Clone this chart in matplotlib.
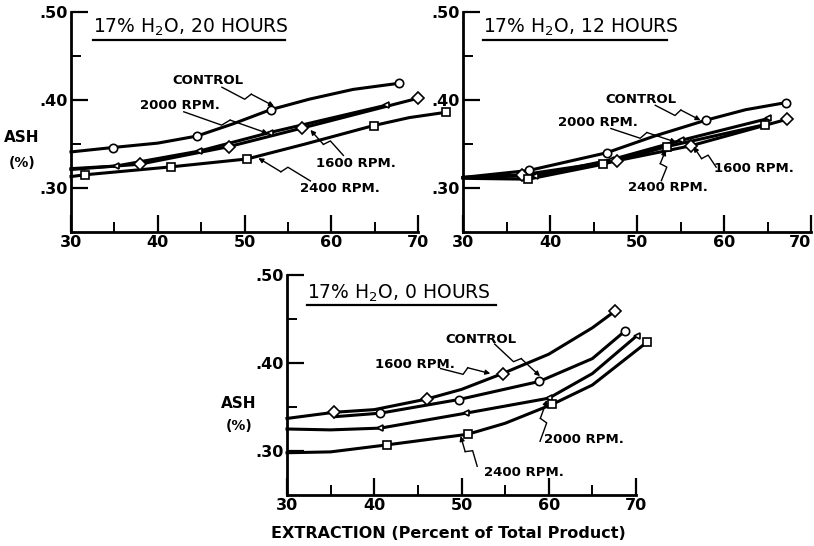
import numpy as np
import matplotlib.pyplot as plt

# values (ash % vs extraction %)

# --- 17% H2O, 20 hours ---
h20_ctrl_cx = [30, 34.8, 40, 44.5, 48.7, 53.0, 57.5, 62.5, 67.8]
h20_ctrl_cy = [0.341, 0.346, 0.351, 0.359, 0.373, 0.389, 0.401, 0.412, 0.419]
h20_ctrl_mx = [34.8, 44.5, 53.0, 67.8]
h20_ctrl_my = [0.346, 0.359, 0.389, 0.419]
h20_r2000_cx = [30, 35.2, 44.8, 52.9, 66.3]
h20_r2000_cy = [0.322, 0.325, 0.342, 0.363, 0.394]
h20_r1600_cx = [30, 37.9, 48.2, 56.6, 70.0]
h20_r1600_cy = [0.321, 0.327, 0.347, 0.368, 0.402]
h20_r2400_cx = [30, 31.6, 41.5, 50.3, 57, 64.9, 69, 73.2]
h20_r2400_cy = [0.313, 0.315, 0.324, 0.333, 0.350, 0.371, 0.380, 0.386]
h20_r2400_mx = [31.6, 41.5, 50.3, 64.9, 73.2]
h20_r2400_my = [0.315, 0.324, 0.333, 0.371, 0.386]

# --- 17% H2O, 12 hours ---
h12_ctrl_cx = [30, 37.6, 46.5, 52, 57.9, 62.5, 67.1]
h12_ctrl_cy = [0.312, 0.320, 0.340, 0.359, 0.377, 0.389, 0.397]
h12_ctrl_mx = [37.6, 46.5, 57.9, 67.1]
h12_ctrl_my = [0.320, 0.340, 0.377, 0.397]
h12_r2000_cx = [30, 38.3, 47.0, 55.0, 65.1]
h12_r2000_cy = [0.312, 0.314, 0.332, 0.354, 0.379]
h12_r1600_cx = [30, 36.8, 47.7, 56.2, 67.2]
h12_r1600_cy = [0.312, 0.315, 0.331, 0.348, 0.378]
h12_r2400_cx = [30, 37.5, 46.1, 53.4, 64.7]
h12_r2400_cy = [0.311, 0.310, 0.327, 0.347, 0.372]

# --- 17% H2O, 0 hours ---
h0_r1600_cx = [30, 35.4, 40, 46.0, 50, 54.7, 60, 65, 67.6]
h0_r1600_cy = [0.337, 0.344, 0.347, 0.359, 0.370, 0.388, 0.410, 0.440, 0.459]
h0_r1600_mx = [35.4, 46.0, 54.7, 67.6]
h0_r1600_my = [0.344, 0.359, 0.388, 0.459]
h0_ctrl_cx = [35.5, 40.7, 49.7, 58.9, 65, 68.7]
h0_ctrl_cy = [0.339, 0.343, 0.3585, 0.379, 0.405, 0.436]
h0_ctrl_mx = [40.7, 49.7, 58.9, 68.7]
h0_ctrl_my = [0.343, 0.3585, 0.379, 0.436]
h0_r2000_cx = [30, 35, 40.7, 50.5, 60.0, 65, 70.1]
h0_r2000_cy = [0.325, 0.324, 0.326, 0.343, 0.360, 0.388, 0.431]
h0_r2000_mx = [40.7, 50.5, 60.0, 70.1]
h0_r2000_my = [0.326, 0.343, 0.360, 0.431]
h0_r2400_cx = [30, 35, 41.5, 50.7, 55, 60.4, 65, 71.3]
h0_r2400_cy = [0.298, 0.299, 0.307, 0.319, 0.3315, 0.353, 0.375, 0.424]
h0_r2400_mx = [41.5, 50.7, 60.4, 71.3]
h0_r2400_my = [0.307, 0.319, 0.353, 0.424]

x_ticks = [30, 40, 50, 60, 70]
y_ticks = [0.30, 0.40, 0.50]
y_ticklabels = ['.30', '.40', '.50']

W, H = 814, 546
fig = plt.figure(figsize=(W / 100, H / 100), dpi=100)


def make_axes(left_px, bottom_px, w_px=348, h_px=220):
    ax = fig.add_axes([left_px / W, 1 - bottom_px / H, w_px / W, h_px / H])
    ax.set_xlim(30, 70)
    ax.set_ylim(0.25, 0.50)
    for s in ['top', 'right']:
        ax.spines[s].set_visible(False)
    for s in ['left', 'bottom']:
        ax.spines[s].set_linewidth(2)
    ax.set_xticks(x_ticks)
    ax.set_xticks([35, 45, 55, 65], minor=True)
    ax.set_yticks(y_ticks)
    ax.set_yticklabels(y_ticklabels)
    ax.set_yticks([0.35, 0.45], minor=True)
    ax.tick_params(which='major', direction='in', length=12, width=1.6,
                   labelsize=11.5, pad=2)
    ax.tick_params(which='minor', direction='in', length=7.5, width=1.4)
    for lab in ax.get_xticklabels() + ax.get_yticklabels():
        lab.set_fontweight('bold')
    ax.patch.set_alpha(0)
    return ax


def title(ax, txt, x0, x1, yt, yl):
    ax.text(x0, yt, txt, transform=ax.transAxes, fontsize=13.5, ha='left',
            va='baseline')
    ax.plot([x0, x1], [yl, yl], transform=ax.transAxes, color='k', lw=1.6,
            clip_on=False)


def curve(ax, cx, cy, mx, my, marker, ms):
    ax.plot(cx, cy, color='k', lw=2.2, clip_on=False, zorder=2)
    ax.plot(mx, my, ls='none', marker=marker, ms=ms, mfc='white', mec='k',
            mew=1.2, clip_on=False, zorder=3)


def callout(ax, txt, tx, ty, p0, p1, h=3.5):
    # label + lightning style leader ending in an arrow head
    ax.text(tx, ty, txt, fontsize=9.5, fontweight='bold', ha='center',
            va='center')
    tr = ax.transData
    a = tr.transform(p0)
    b = tr.transform(p1)
    d = b - a
    n = np.array([-d[1], d[0]]) / np.hypot(*d)
    pts = np.array([a, a + 0.46 * d - n * h, a + 0.54 * d + n * h])
    pts = tr.inverted().transform(pts)
    ax.plot(pts[:, 0], pts[:, 1], color='k', lw=1, clip_on=False)
    ax.annotate('', xy=p1, xytext=pts[-1],
                arrowprops=dict(arrowstyle='-|>', lw=1, color='k',
                                mutation_scale=7, shrinkA=0, shrinkB=0))


# top left panel
ax1 = make_axes(71, 232, 347)
curve(ax1, h20_ctrl_cx, h20_ctrl_cy, h20_ctrl_mx, h20_ctrl_my, 'o', 6)
curve(ax1, h20_r2000_cx, h20_r2000_cy, h20_r2000_cx[1:], h20_r2000_cy[1:], '<', 4.5)
curve(ax1, h20_r1600_cx, h20_r1600_cy, h20_r1600_cx[1:], h20_r1600_cy[1:], 'D', 6.5)
curve(ax1, h20_r2400_cx, h20_r2400_cy, h20_r2400_mx, h20_r2400_my, 's', 6)
title(ax1, '17% H$_2$O, 20 HOURS', 0.063, 0.617, 0.905, 0.873)
callout(ax1, 'CONTROL', 45.8, 0.422, (47.4, 0.4145), (53.4, 0.393))
callout(ax1, '2000 RPM.', 42.6, 0.394, (43.0, 0.3866), (52.7, 0.362))
callout(ax1, '1600 RPM.', 62.8, 0.3275, (61.4, 0.337), (57.6, 0.366))
callout(ax1, '2400 RPM.', 61.0, 0.299, (57.6, 0.308), (51.6, 0.334))

# top right panel
ax2 = make_axes(463, 232, 348)
curve(ax2, h12_ctrl_cx, h12_ctrl_cy, h12_ctrl_mx, h12_ctrl_my, 'o', 6)
curve(ax2, h12_r2000_cx, h12_r2000_cy, h12_r2000_cx[1:], h12_r2000_cy[1:], '<', 4.5)
curve(ax2, h12_r1600_cx, h12_r1600_cy, h12_r1600_cx[1:], h12_r1600_cy[1:], 'D', 6.5)
curve(ax2, h12_r2400_cx, h12_r2400_cy, h12_r2400_cx[1:], h12_r2400_cy[1:], 's', 6)
title(ax2, '17% H$_2$O, 12 HOURS', 0.057, 0.586, 0.905, 0.873)
callout(ax2, 'CONTROL', 50.4, 0.4008, (52.1, 0.394), (57.3, 0.377))
callout(ax2, '2000 RPM.', 45.5, 0.375, (47.0, 0.3676), (54.5, 0.352))
callout(ax2, '1600 RPM.', 63.4, 0.3218, (59.1, 0.3237), (56.5, 0.347))
callout(ax2, '2400 RPM.', 53.6, 0.3008, (52.8, 0.3084), (53.3, 0.343))
# last tick label sits at the page edge, pull it inside
ax2.get_xticklabels()[-1].set_horizontalalignment('right')

# bottom panel
ax3 = make_axes(287, 495, 349)
curve(ax3, h0_r1600_cx, h0_r1600_cy, h0_r1600_mx, h0_r1600_my, 'D', 6.5)
curve(ax3, h0_ctrl_cx, h0_ctrl_cy, h0_ctrl_mx, h0_ctrl_my, 'o', 6)
curve(ax3, h0_r2000_cx, h0_r2000_cy, h0_r2000_mx, h0_r2000_my, '<', 4.5)
curve(ax3, h0_r2400_cx, h0_r2400_cy, h0_r2400_mx, h0_r2400_my, 's', 6)
title(ax3, '17% H$_2$O, 0 HOURS', 0.057, 0.60, 0.89, 0.864)
callout(ax3, 'CONTROL', 52.2, 0.427, (53.8, 0.4215), (59.0, 0.385))
callout(ax3, '1600 RPM.', 44.7, 0.398, (47.6, 0.3937), (53.3, 0.388))
callout(ax3, '2000 RPM.', 64.0, 0.313, (59.0, 0.311), (59.8, 0.358))
callout(ax3, '2400 RPM.', 57.2, 0.276, (51.8, 0.2826), (49.9, 0.317))
ax3.set_xlabel('EXTRACTION (Percent of Total Product)', fontsize=11.5,
               fontweight='bold')
ax3.xaxis.set_label_coords(0.461, -0.14)

# y axis titles
for (x, y) in [(22, 138), (239, 403)]:
    fig.text(x / W, 1 - y / H, 'ASH', fontsize=11, fontweight='bold',
             ha='center', va='center')
for (x, y) in [(22, 163), (239, 426)]:
    fig.text(x / W, 1 - y / H, '(%)', fontsize=10, fontweight='bold',
             ha='center', va='center')

fig.savefig('out.png', dpi=100)
